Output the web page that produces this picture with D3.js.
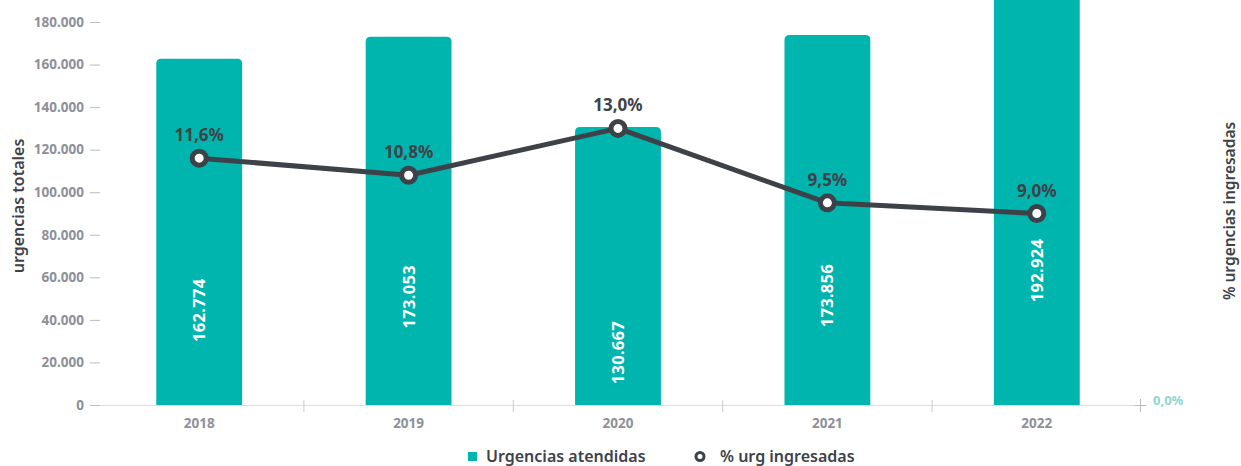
<!DOCTYPE html>
<html>
<head>
<meta charset="utf-8">
<script src="https://cdn.jsdelivr.net/npm/d3@7"></script>
<style>
  body { margin: 0; background: #fff; }
  svg { display: block; font-family: "Noto Sans", sans-serif; }
</style>
</head>
<body>
<div id="chart"></div>
<script>
const years = ['2018', '2019', '2020', '2021', '2022'];
const urgencias = [162774, 173053, 130667, 173856, 192924];
const pctIngresadas = [11.6, 10.8, 13.0, 9.5, 9.0];
const leftTicks = [0, 20000, 40000, 60000, 80000, 100000, 120000, 140000, 160000, 180000];

const WIDTH = 1241;
const HEIGHT = 466;
const TEAL = '#00b5ae';
const DARK = '#3d4249';
const GREY = '#8e9099';

const fmtThousands = d3.formatLocale({ decimal: ',', thousands: '.', grouping: [3], currency: ['', '€'] }).format(',d');
const fmtPct = v => v.toFixed(1).replace('.', ',') + '%';

const svg = d3.select('#chart').append('svg')
    .attr('width', WIDTH)
    .attr('height', HEIGHT);

const xScale = d3.scaleBand()
    .domain(years)
    .range([94.5, 1141.5])
    .paddingInner(0.59)
    .paddingOuter(0.295);

const yLeft = d3.scaleLinear().domain([0, 180000]).range([405, 22]);
const yRight = d3.scaleLinear().domain([0, 18]).range([405, 22]);

// left axis
const leftAxis = svg.append('g').attr('transform', 'translate(100,0)')
    .call(d3.axisLeft(yLeft).tickValues(leftTicks).tickFormat(fmtThousands).tickSize(10).tickPadding(6));
leftAxis.select('.domain').remove();
leftAxis.selectAll('.tick line').attr('stroke', '#b9bbc1');
leftAxis.selectAll('.tick text')
    .attr('fill', GREY)
    .style('font-size', '13.5px')
    .style('font-weight', 700)
    .style('font-family', '"Noto Sans", sans-serif');

// baseline + category ticks
svg.append('line')
    .attr('x1', 100).attr('x2', 1141)
    .attr('y1', 405.5).attr('y2', 405.5)
    .attr('stroke', '#dcdde1');

const boundaries = years.slice(1).map(y => xScale(y) - xScale.step() * xScale.paddingInner() / 2);
svg.selectAll('.cat-tick').data(boundaries).enter().append('line')
    .attr('class', 'cat-tick')
    .attr('x1', d => d).attr('x2', d => d)
    .attr('y1', 400).attr('y2', 412)
    .attr('stroke', '#c8cacf');

// right end cross
const xEnd = xScale.range()[1] - 1;
svg.append('line').attr('x1', xEnd - 6).attr('x2', xEnd + 6).attr('y1', 405.5).attr('y2', 405.5).attr('stroke', '#b9bbc1');
svg.append('line').attr('x1', xEnd).attr('x2', xEnd).attr('y1', 399).attr('y2', 412).attr('stroke', '#b9bbc1');
svg.append('text')
    .attr('x', 1153).attr('y', 405)
    .attr('fill', '#8fd5d0')
    .style('font-size', '13px').style('font-weight', 700)
    .text(fmtPct(yRight.domain()[0]));

// x labels
svg.selectAll('.x-label').data(years).enter().append('text')
    .attr('class', 'x-label')
    .attr('x', d => xScale(d) + xScale.bandwidth() / 2)
    .attr('y', 428)
    .attr('text-anchor', 'middle')
    .attr('fill', GREY)
    .style('font-size', '13.5px').style('font-weight', 700)
    .text(d => d);

// bars with rounded top corners
const r = 5;
const barPath = (x, w, top, bottom) =>
    `M${x},${bottom}V${top + r}Q${x},${top} ${x + r},${top}H${x + w - r}Q${x + w},${top} ${x + w},${top + r}V${bottom}Z`;

svg.selectAll('.bar').data(years).enter().append('path')
    .attr('class', 'bar')
    .attr('fill', TEAL)
    .attr('d', (d, i) => barPath(xScale(d), xScale.bandwidth(), yLeft(urgencias[i]), yLeft(0)));

// bar value labels (rotated)
svg.selectAll('.bar-label').data(years).enter().append('text')
    .attr('class', 'bar-label')
    .attr('transform', (d, i) => {
        const h = yLeft(0) - yLeft(urgencias[i]);
        const cy = yLeft(0) - (0.62 * h - 120);
        return `translate(${xScale(d) + xScale.bandwidth() / 2 + 6},${cy}) rotate(-90)`;
    })
    .attr('text-anchor', 'middle')
    .attr('fill', '#fff')
    .style('font-size', '16.5px').style('font-weight', 700)
    .style('letter-spacing', '0.3px')
    .text((d, i) => fmtThousands(urgencias[i]));

// line
const line = d3.line()
    .x((d, i) => xScale(years[i]) + xScale.bandwidth() / 2)
    .y(d => yRight(d));

svg.append('path')
    .datum(pctIngresadas)
    .attr('fill', 'none')
    .attr('stroke', DARK)
    .attr('stroke-width', 5)
    .attr('stroke-linejoin', 'round')
    .attr('d', line);

svg.selectAll('.pt').data(pctIngresadas).enter().append('circle')
    .attr('class', 'pt')
    .attr('cx', (d, i) => xScale(years[i]) + xScale.bandwidth() / 2)
    .attr('cy', d => yRight(d))
    .attr('r', 7)
    .attr('fill', '#fff')
    .attr('stroke', DARK)
    .attr('stroke-width', 5);

svg.selectAll('.pt-label').data(pctIngresadas).enter().append('text')
    .attr('class', 'pt-label')
    .attr('x', (d, i) => xScale(years[i]) + xScale.bandwidth() / 2)
    .attr('y', d => yRight(d) - 17)
    .attr('text-anchor', 'middle')
    .attr('fill', DARK)
    .style('font-size', '17px').style('font-weight', 700)
    .text(d => fmtPct(d));

// axis titles
svg.append('text')
    .attr('transform', 'translate(24,206) rotate(-90)')
    .attr('text-anchor', 'middle')
    .attr('fill', DARK)
    .style('font-size', '16px').style('font-weight', 600)
    .text('urgencias totales');

svg.append('text')
    .attr('transform', 'translate(1235,211) rotate(-90)')
    .attr('text-anchor', 'middle')
    .attr('fill', DARK)
    .style('font-size', '15.5px').style('font-weight', 600)
    .text('% urgencias ingresadas');

// legend
const legend = svg.append('g');
legend.append('rect').attr('x', 468).attr('y', 452).attr('width', 9).attr('height', 9).attr('fill', TEAL);
legend.append('text').attr('x', 486).attr('y', 462)
    .attr('fill', DARK).style('font-size', '16px').style('font-weight', 600)
    .text('Urgencias atendidas');
legend.append('circle').attr('cx', 700).attr('cy', 456.5).attr('r', 4)
    .attr('fill', '#fff').attr('stroke', DARK).attr('stroke-width', 3);
legend.append('text').attr('x', 720).attr('y', 462)
    .attr('fill', DARK).style('font-size', '16px').style('font-weight', 600)
    .text('% urg ingresadas');
</script>
</body>
</html>
